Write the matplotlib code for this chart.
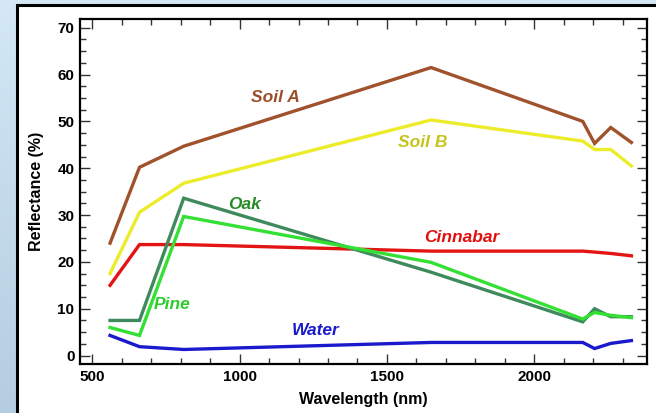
import numpy as np
import matplotlib
matplotlib.use("Agg")
import matplotlib.pyplot as plt
from matplotlib.patches import Rectangle
from matplotlib.ticker import MultipleLocator
from matplotlib.colors import LinearSegmentedColormap

plt.rcParams['font.family'] = ['Liberation Sans', 'DejaVu Sans']

wavelength = [560, 660, 810, 1650, 2165, 2205, 2260, 2330]
soil_a   = [24.0, 40.2, 44.7, 61.5, 50.0, 45.3, 48.7, 45.5]
soil_b   = [17.5, 30.6, 36.8, 50.3, 45.8, 44.0, 44.0, 40.5]
cinnabar = [15.0, 23.7, 23.7, 22.3, 22.3, 22.1, 21.8, 21.3]
oak      = [7.5, 7.5, 33.6, 17.8, 7.2, 10.0, 8.3, 8.3]
pine     = [6.0, 4.3, 29.7, 19.9, 7.8, 9.2, 8.6, 8.1]
water    = [4.3, 1.9, 1.3, 2.8, 2.8, 1.5, 2.6, 3.2]

series = [
    ("Soil A", soil_a, "#a0522d", "#9a4e2a", (1120, 55.2)),
    ("Soil B", soil_b, "#ecec2a", "#c4c41a", (1620, 45.6)),
    ("Cinnabar", cinnabar, "#e31414", "#e01010", (1755, 25.2)),
    ("Oak", oak, "#3f8a5c", "#2a8a2a", (1018, 32.3)),
    ("Pine", pine, "#33e033", "#2ccc2c", (770, 10.9)),
    ("Water", water, "#1a1acc", "#1a1acc", (1259, 5.3)),
]

W, H = 656, 413
fig = plt.figure(figsize=(W/100, H/100), dpi=100)

# background gradient
bg = fig.add_axes([0, 0, 1, 1], zorder=-10)
grad = np.linspace(0, 1, 256).reshape(-1, 1)
cmap = LinearSegmentedColormap.from_list("bg", ["#d4e8f6", "#b4cde0"])
bg.imshow(grad, aspect='auto', cmap=cmap, extent=[0, 1, 0, 1])
bg.set_axis_off()
bg.add_patch(Rectangle((17/W, -0.1), 1.2, (H-4.7)/H + 0.1, transform=bg.transAxes,
                       facecolor='white', edgecolor='black', linewidth=2.2))

ax = fig.add_axes([80/W, 1-364/H, (647-80)/W, (364-19.3)/H])
ax.set_facecolor('white')
for name, vals, lc, tc, (tx, ty) in series:
    ax.plot(wavelength, vals, color=lc, linewidth=2.4, solid_joinstyle='miter')
    ax.text(tx, ty, name, color=tc, fontsize=12.5, fontweight='bold', style='italic',
            ha='center', va='center')

ax.set_xlim(458, 2383)
ax.set_ylim(-1.8, 71.8)
ax.xaxis.set_major_locator(MultipleLocator(500))
ax.xaxis.set_minor_locator(MultipleLocator(100))
ax.yaxis.set_major_locator(MultipleLocator(10))
ax.yaxis.set_minor_locator(MultipleLocator(2.5))
ax.tick_params(which='both', direction='in', top=True, right=True, colors='#333333',
               labelcolor='black')
ax.tick_params(which='major', length=7, width=1, pad=4)
ax.tick_params(which='minor', length=4, width=1)
ax.set_xticks([500, 1000, 1500, 2000])
for lab in ax.get_xticklabels() + ax.get_yticklabels():
    lab.set_fontweight('bold')
    lab.set_fontsize(11)
for s in ax.spines.values():
    s.set_linewidth(1.6)
    s.set_color('black')
ax.set_xlabel("Wavelength (nm)", fontsize=11.5, fontweight='bold', labelpad=6)
ax.set_ylabel("Reflectance (%)", fontsize=11.5, fontweight='bold', labelpad=10)

fig.savefig("out.png", dpi=100)
